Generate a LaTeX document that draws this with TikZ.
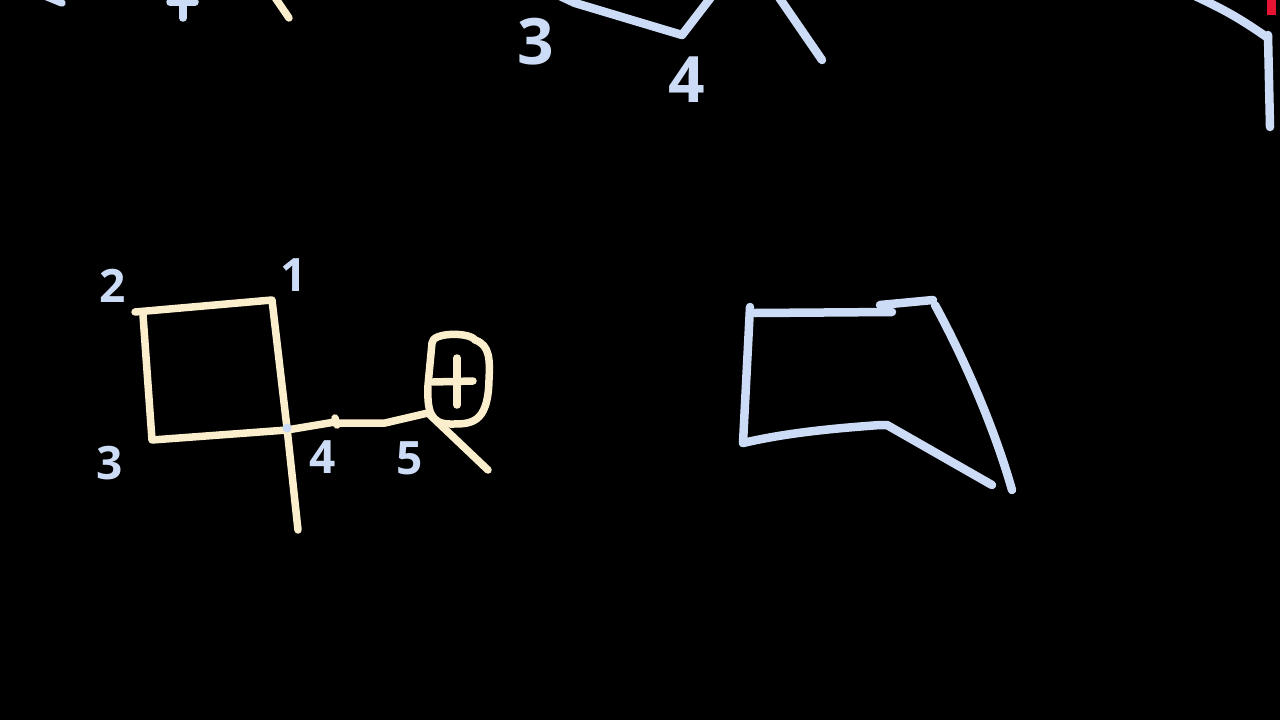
\documentclass[tikz,border=0pt]{standalone}
\usepackage{fontspec}
\newfontfamily\hand{Open Sans}[BoldFont={Open Sans Bold}]
\definecolor{cream}{RGB}{250,238,205}
\definecolor{pale}{RGB}{205,220,246}
\definecolor{redmarker}{RGB}{228,20,50}
\tikzset{
  ink/.style={line width=7.5pt,line cap=round,line join=round},
  creamink/.style={ink,draw=cream},
  blueink/.style={ink,draw=pale},
  fatblue/.style={line width=8.5pt,line cap=round,line join=round,draw=pale},
  lbl/.style={text=pale,font=\hand\bfseries\fontsize{46}{46}\selectfont,inner sep=0pt},
  biglbl/.style={text=pale,font=\hand\bfseries\fontsize{64}{64}\selectfont,inner sep=0pt}
}
\begin{document}
\begin{tikzpicture}[x=1pt,y=-1pt]
\fill[black] (0,0) rectangle (1280,720);
\useasboundingbox (0,0) rectangle (1280,720);
% --- top fragments (cut by the top edge) ---
\draw[blueink] (45,-4) -- (62,3);
\draw[blueink] (170,2) -- (195,2);
\draw[blueink] (183,-4) -- (183,18);
\draw[creamink] (274,-4) -- (289,18);
\draw[fatblue] (560,-4) -- (575,3) -- (682,35) -- (712,-4);
\draw[fatblue] (778,-4) -- (822,60);
\node[biglbl] (t3) at (536,42) {3};
\node[biglbl] (t4) at (687,80) {4};
\draw[fatblue] (1195,-4) to[bend left=5] (1268,38);
\draw[fatblue] (1268,35) -- (1270,127);
\fill[redmarker] (1267,0) rectangle (1276,15);
% --- left figure ---
\draw[creamink] (135,312) -- (272,300) -- (287,428) -- (298,530);
\draw[creamink] (143,315) -- (152,440) -- (287,430) -- (335,422);
\draw[creamink] (335,418) -- (337,425);
\draw[creamink] (335,423) -- (385,423) -- (428,413) -- (488,470);
\draw[creamink] (432,343) .. controls (432,332) and (470,332) .. (475,340)
  .. controls (490,345) and (490,360) .. (489,380)
  .. controls (488,425) and (470,424) .. (450,424)
  .. controls (430,424) and (427,410) .. (428,385) -- cycle;
\draw[creamink] (433,382) -- (473,381);
\draw[creamink] (457,358) -- (457,405);
\fill[pale] (287,428) circle (4.5pt);
\node[lbl] (l2) at (113,286) {2};
\node[lbl] (l1) at (294,275) {1};
\node[lbl] (l3) at (110,463) {3};
\node[lbl] (l4) at (323,457) {4};
\node[lbl] (l5) at (410,458) {5};
% --- right figure ---
\draw[fatblue] (750,307) -- (743,443);
\draw[fatblue] (755,313) -- (892,312);
\draw[fatblue] (880,305) -- (933,300);
\draw[fatblue] (935,305) .. controls (965,360) and (995,430) .. (1012,490);
\draw[fatblue] (743,443) .. controls (790,432) and (840,428) .. (880,425) -- (887,425) -- (992,485);
\end{tikzpicture}
\end{document}
